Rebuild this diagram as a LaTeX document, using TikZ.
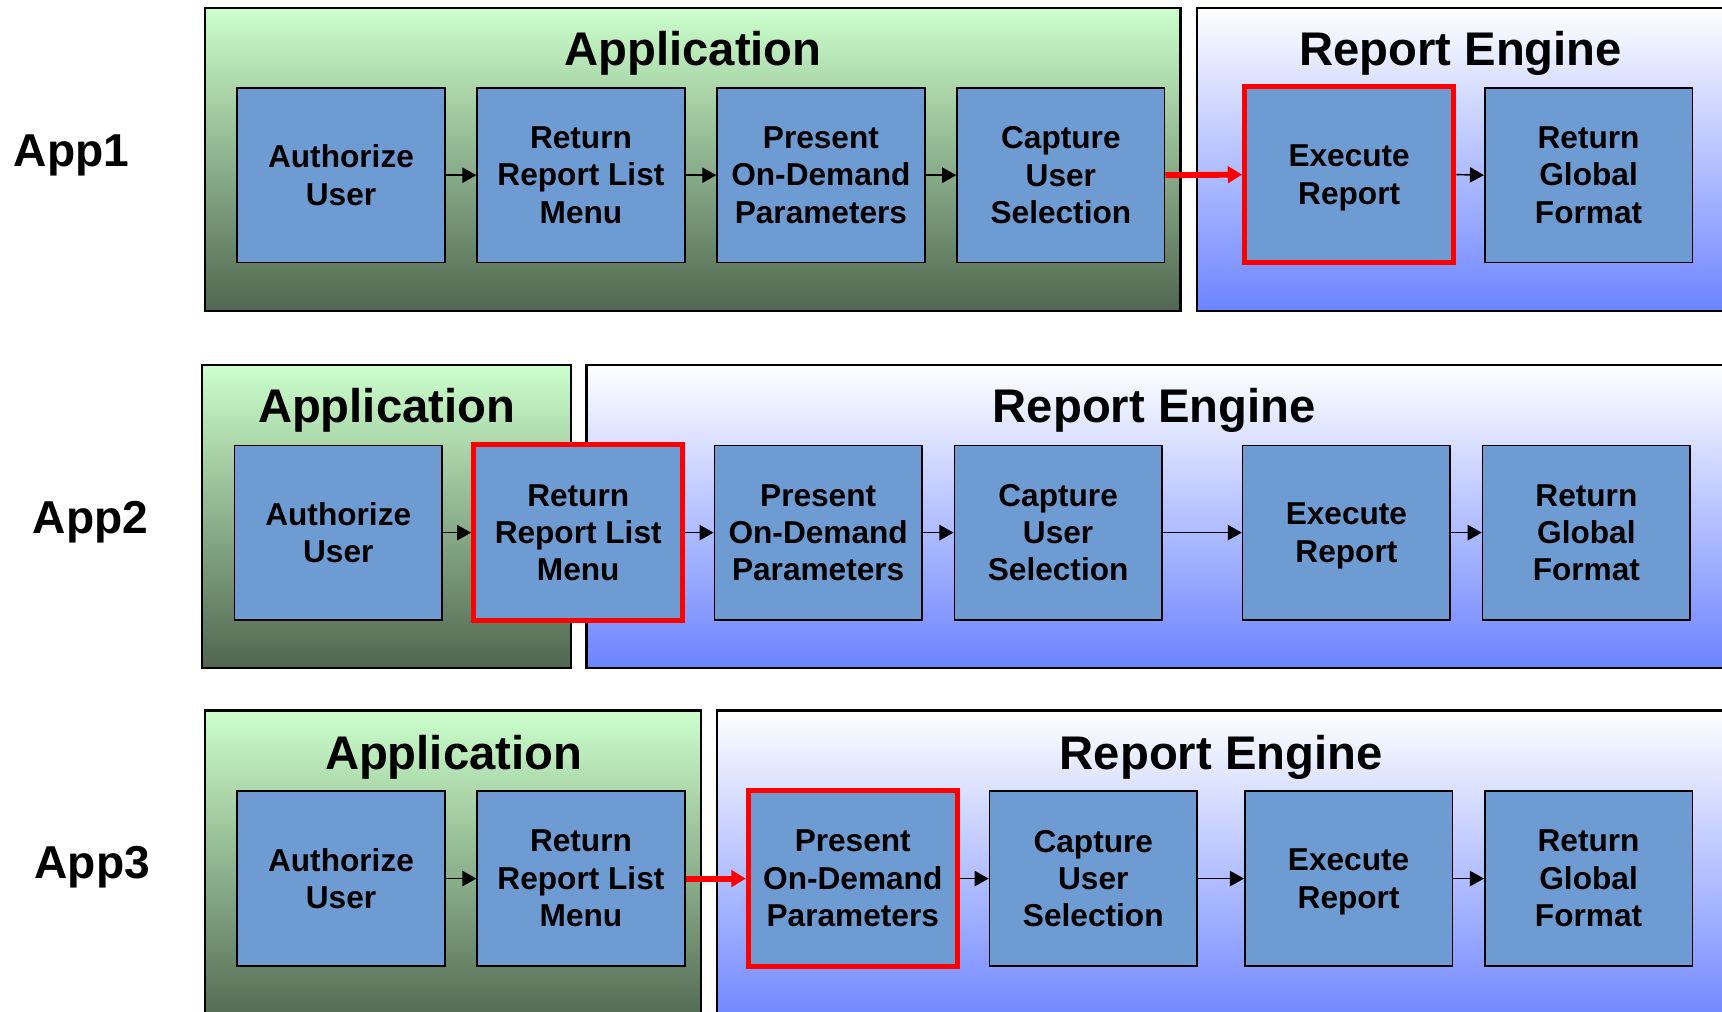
\documentclass[tikz,border=0pt]{standalone}
\usepackage{fontspec}
\setmainfont{Liberation Sans}
\usetikzlibrary{arrows.meta,fit}
\definecolor{boxblue}{RGB}{111,155,211}
\definecolor{grtop}{RGB}{204,255,204}
\definecolor{grbot}{RGB}{80,102,80}
\definecolor{retop}{RGB}{255,255,255}
\definecolor{rebot}{RGB}{108,132,255}
\definecolor{hlred}{RGB}{255,0,0}
\begin{document}
\begin{tikzpicture}[x=0.5pt,y=-0.5pt,
  appbox/.style={draw=black, line width=1pt, top color=grtop, bottom color=grbot, inner sep=0pt},
  engbox/.style={draw=black, line width=1pt, top color=retop, bottom color=rebot, inner sep=0pt},
  procbox/.style={draw=black, fill=boxblue, line width=0.75pt, minimum width=94.5pt, minimum height=79.5pt,
    align=center, inner sep=0pt, font=\fontsize{14.4}{17}\selectfont\bfseries},
  redbox/.style={procbox, draw=hlred, line width=2.3pt, minimum width=95.25pt, minimum height=80.25pt},
  title/.style={anchor=base, inner sep=0pt, font=\fontsize{21.5}{25}\selectfont\bfseries},
  applabel/.style={anchor=base, inner sep=0pt, font=\fontsize{21}{25}\selectfont\bfseries},
  flow/.style={-{Triangle[length=6.4pt,width=7pt]}, line width=0.65pt, black},
  redflow/.style={-{Triangle[length=6.5pt,width=7.5pt]}, line width=2.7pt, hlred}]
\useasboundingbox (0,0) rectangle (1568,921);
% ---------- Row 1 ----------
\node[appbox, fit={(187,7) (1075,283)}] (appA) {};
\node[engbox, fit={(1090,7) (1580,283)}] (engA) {};
\node[title] (tAppA) at (631,60) {Application};
\node[title] (tEngA) at (1330,60) {Report Engine};
\node[applabel] (lblA) at (65,152) {App1};
\node[procbox] (a1) at (310.5,159.5) {Authorize\\User};
\node[procbox] (a2) at (529,159.5) {Return\\Report List\\Menu};
\node[procbox] (a3) at (747.5,159.5) {Present\\On-Demand\\Parameters};
\node[procbox] (a4) at (966,159.5) {Capture\\User\\Selection};
\node[redbox] (a5) at (1228.5,159) {Execute\\\smash{Report}};
\node[procbox] (a6) at (1446.5,159.5) {Return\\Global\\Format};
\draw[flow] (a1.east) -- (a2.west);
\draw[flow] (a2.east) -- (a3.west);
\draw[flow] (a3.east) -- (a4.west);
\draw[redflow] (a4.east) -- (a5.west);
\draw[flow] (a5.east) -- (a6.west);
% ---------- Row 2 ----------
\node[appbox, fit={(184,332) (520,608)}] (appB) {};
\node[engbox, fit={(534,332) (1580,608)}] (engB) {};
\node[title] (tAppB) at (352,385) {Application};
\node[title] (tEngB) at (1051,385) {Report Engine};
\node[applabel] (lblB) at (82.5,486) {App2};
\node[procbox] (b1) at (308,485) {Authorize\\User};
\node[redbox] (b2) at (526.5,485) {Return\\Report List\\Menu};
\node[procbox] (b3) at (745,485) {Present\\On-Demand\\Parameters};
\node[procbox] (b4) at (963.5,485) {Capture\\User\\Selection};
\node[procbox] (b5) at (1226,485) {Execute\\\smash{Report}};
\node[procbox] (b6) at (1444.5,485) {Return\\Global\\Format};
\draw[flow] (b1.east) -- (b2.west);
\draw[flow] (b2.east) -- (b3.west);
\draw[flow] (b3.east) -- (b4.west);
\draw[flow] (b4.east) -- (b5.west);
\draw[flow] (b5.east) -- (b6.west);
% ---------- Row 3 ----------
\node[appbox, fit={(187,647) (638,935)}] (appC) {};
\node[engbox, fit={(653,647) (1580,935)}] (engC) {};
\node[title] (tAppC) at (413,701) {Application};
\node[title] (tEngC) at (1112,701) {Report Engine};
\node[applabel] (lblC) at (84,800) {App3};
\node[procbox] (c1) at (310.5,800) {Authorize\\User};
\node[procbox] (c2) at (529,800) {Return\\Report List\\Menu};
\node[redbox] (c3) at (776.5,800) {Present\\On-Demand\\Parameters};
\node[procbox] (c4) at (995.5,800) {Capture\\User\\Selection};
\node[procbox] (c5) at (1228,800) {Execute\\\smash{Report}};
\node[procbox] (c6) at (1446.5,800) {Return\\Global\\Format};
\draw[flow] (c1.east) -- (c2.west);
\draw[redflow] (c2.east) -- (c3.west);
\draw[flow] (c3.east) -- (c4.west);
\draw[flow] (c4.east) -- (c5.west);
\draw[flow] (c5.east) -- (c6.west);
\end{tikzpicture}
\end{document}
